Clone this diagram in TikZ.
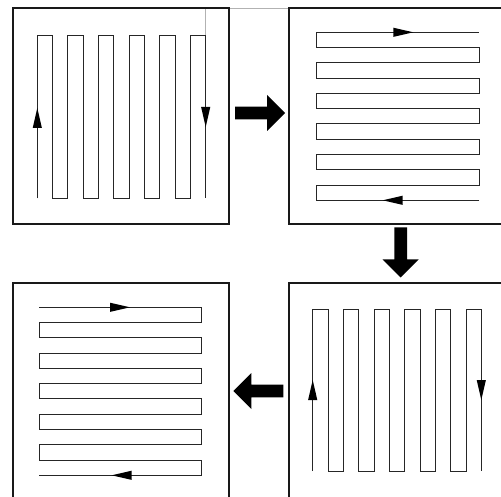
\documentclass[tikz,border=0pt]{standalone}
\usetikzlibrary{calc}

\tikzset{
  panel/.style={draw=black!90, line width=1.7pt, minimum width=216pt, minimum height=216pt, inner sep=0pt},
  meander/.style={draw=black!85, line width=1pt, line join=miter},
  guide/.style={draw=black!30, line width=0.9pt},
  flowhead/.pic={\fill[black] (0,0) -- (-20,4.6) -- (-20,-4.6) -- cycle;},
  blockarrow/.pic={\fill[black] (-50,-6.3) -- (-18,-6.3) -- (-18,-18) -- (0,0)
                    -- (-18,18) -- (-18,6.3) -- (-50,6.3) -- cycle;}
}

\begin{document}
\begin{tikzpicture}[x=1pt, y=-1pt]
  \useasboundingbox (0,0) rectangle (501,497);
  \clip (0,0) rectangle (501,497);

  % thin guide line from the first pattern to the second panel
  \coordinate (g0) at (205.7,36);
  \coordinate (g1) at (205.7,8.3);
  \coordinate (g2) at (289.3,8.3);
  \draw[guide] (g0) -- (g1) -- (g2);

  % the four panels
  \node[panel] (p1) at (121.3,116.3) {};
  \node[panel] (p2) at (397.3,116.3) {};
  \node[panel] (p3) at (397.3,391.3) {};
  \node[panel] (p4) at (121.3,391.3) {};

  % panel 1: vertical meander, starting upwards
  \def\d{15.31}\def\h{162.3}
  \draw[meander] (37.3,198.3)
    \foreach \k in {1,...,5} { -- ++(0,-\h) -- ++(\d,0) -- ++(0,\h) -- ++(\d,0) }
    -- ++(0,-\h) -- ++(\d,0) -- ++(0,\h);
  \pic[rotate=90]  at (37.3,108) {flowhead};
  \pic[rotate=-90] at (205.7,127) {flowhead};

  % panel 2: horizontal meander, starting leftwards at the bottom
  \def\d{15.27}\def\w{162.6}
  \draw[meander] (479.3,200.3)
    \foreach \k in {1,...,5} { -- ++(-\w,0) -- ++(0,-\d) -- ++(\w,0) -- ++(0,-\d) }
    -- ++(-\w,0) -- ++(0,-\d) -- ++(\w,0);
  \pic[rotate=0]   at (413.3,32.3) {flowhead};
  \pic[rotate=180] at (382.7,200.3) {flowhead};

  % panel 3: vertical meander, starting upwards
  \def\d{15.33}\def\h{161}
  \draw[meander] (312.7,471)
    \foreach \k in {1,...,5} { -- ++(0,-\h) -- ++(\d,0) -- ++(0,\h) -- ++(\d,0) }
    -- ++(0,-\h) -- ++(\d,0) -- ++(0,\h);
  \pic[rotate=90]  at (312.7,380) {flowhead};
  \pic[rotate=-90] at (481.3,400) {flowhead};

  % panel 4: horizontal meander, starting rightwards at the top
  \def\d{15.27}\def\w{162.4}
  \draw[meander] (39.3,307.3)
    \foreach \k in {1,...,5} { -- ++(\w,0) -- ++(0,\d) -- ++(-\w,0) -- ++(0,\d) }
    -- ++(\w,0) -- ++(0,\d) -- ++(-\w,0);
  \pic[rotate=0]   at (130,307.3) {flowhead};
  \pic[rotate=180] at (111.7,475.3) {flowhead};

  % block arrows between the panels
  \pic[rotate=0]   at (285,113)     {blockarrow};
  \pic[rotate=-90] at (400.7,277.5) {blockarrow};
  \pic[rotate=180] at (233.3,391)   {blockarrow};
\end{tikzpicture}
\end{document}
